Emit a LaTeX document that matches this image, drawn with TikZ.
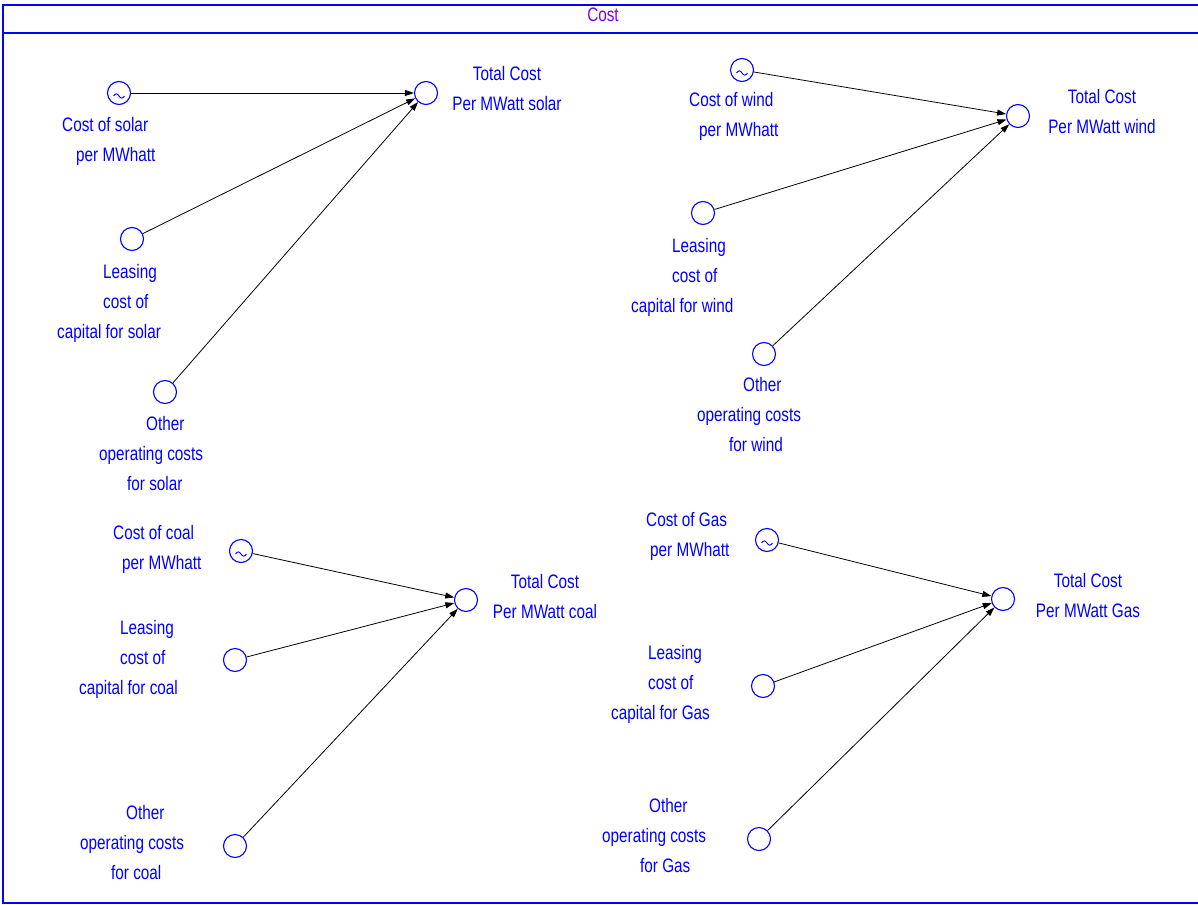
\documentclass[tikz,border=0pt]{standalone}
\usepackage{fontspec}
\setmainfont{Liberation Sans}[FakeStretch=0.785]
\usetikzlibrary{arrows.meta}
\definecolor{titleviolet}{RGB}{125,0,235}
\tikzset{
  stock/.style={circle, draw=blue, line width=1.1pt, minimum size=23pt, inner sep=0pt},
  wave/.style={stock, path picture={\draw[blue, line width=0.9pt]
      ([shift={(-5.5pt,-3pt)}]path picture bounding box.center)
      sin ++(2.75pt,2.2pt) cos ++(2.75pt,-2.2pt) sin ++(2.75pt,-2.2pt) cos ++(2.75pt,2.2pt);}},
  varlabel/.style={text=blue, inner sep=0pt, align=left, anchor=base west},
  totallabel/.style={text=blue, inner sep=0pt, align=center, anchor=base},
  flow/.style={draw=black, line width=0.8pt, -{Triangle[length=9pt,width=6pt]}}
}
\begin{document}
\begin{tikzpicture}[x=1pt, y=-1pt, font=\fontsize{19.5}{30}\selectfont]
        \useasboundingbox (0,0) rectangle (1198,904);
        % frame and title bar
        \draw[blue, line width=1.4pt] (3,5) rectangle (1204,903);
        \draw[blue, line width=1.4pt] (3,33) -- (1204,33);
        \node[text=titleviolet, inner sep=0pt, anchor=base] (title) at (603,22) {Cost};
        % nodes for solar
        \node[wave]  (costsolar)    at (119, 93) {};
        \node[stock] (totalsolar)   at (426, 93) {};
        \node[stock] (leasingsolar) at (132,239) {};
        \node[stock] (othersolar)   at (165,392) {};
        % nodes for wind
        \node[wave]  (costwind)     at ( 742, 70) {};
        \node[stock] (totalwind)    at (1018,116) {};
        \node[stock] (leasingwind)  at ( 703,213) {};
        \node[stock] (otherwind)    at ( 764,354) {};
        % nodes for coal
        \node[wave]  (costcoal)     at (241,551) {};
        \node[stock] (totalcoal)    at (466,600) {};
        \node[stock] (leasingcoal)  at (235,660) {};
        \node[stock] (othercoal)    at (235,846) {};
        % nodes for gas
        \node[wave]  (costgas)      at ( 767,540) {};
        \node[stock] (totalgas)     at (1003,599) {};
        \node[stock] (leasinggas)   at ( 763,686) {};
        \node[stock] (othergas)     at ( 759,839) {};
        % labels for solar (anchored at the last line)
        \node[varlabel]   (costsolarlabel)    at ( 62,161.5) {Cost of solar\\\hspace*{14pt}per MWhatt};
        \node[totallabel] (totalsolarlabel)   at (507,110.5) {Total Cost\\Per MWatt solar};
        \node[varlabel]   (leasingsolarlabel) at ( 57,338)   {\hspace*{46pt}Leasing\\\hspace*{46pt}cost of\\capital for solar};
        \node[varlabel]   (othersolarlabel)   at ( 99,490.5) {\hspace*{47pt}Other\\operating costs\\\hspace*{28pt}for solar};
        % labels for wind
        \node[varlabel]   (costwindlabel)     at ( 689,137)   {Cost of wind\\\hspace*{10pt}per MWhatt};
        \node[totallabel] (totalwindlabel)    at (1102,133.5) {Total Cost\\Per MWatt wind};
        \node[varlabel]   (leasingwindlabel)  at ( 631,312.5) {\hspace*{41pt}Leasing\\\hspace*{41pt}cost of\\capital for wind};
        \node[varlabel]   (otherwindlabel)    at ( 697,451.5) {\hspace*{46pt}Other\\operating costs\\\hspace*{32pt}for wind};
        % labels for coal
        \node[varlabel]   (costcoallabel)     at (113,569.5) {Cost of coal\\\hspace*{9pt}per MWhatt};
        \node[totallabel] (totalcoallabel)    at (545,618.5) {Total Cost\\Per MWatt coal};
        \node[varlabel]   (leasingcoallabel)  at ( 79,694.5) {\hspace*{41pt}Leasing\\\hspace*{41pt}cost of\\capital for coal};
        \node[varlabel]   (othercoallabel)    at ( 80,879.5) {\hspace*{46pt}Other\\operating costs\\\hspace*{31pt}for coal};
        % labels for gas
        \node[varlabel]   (costgaslabel)      at ( 646,556.5) {Cost of Gas\\\hspace*{4pt}per MWhatt};
        \node[totallabel] (totalgaslabel)     at (1088,617.5) {Total Cost\\Per MWatt Gas};
        \node[varlabel]   (leasinggaslabel)   at ( 611,719.5) {\hspace*{37pt}Leasing\\\hspace*{37pt}cost of\\capital for Gas};
        \node[varlabel]   (othergaslabel)     at ( 602,872.5) {\hspace*{47pt}Other\\operating costs\\\hspace*{38pt}for Gas};
        % drawing the connectors
        \draw[flow] (costsolar)    -- (totalsolar);
        \draw[flow] (leasingsolar) -- (totalsolar);
        \draw[flow] (othersolar)   -- (totalsolar);
        \draw[flow] (costwind)     -- (totalwind);
        \draw[flow] (leasingwind)  -- (totalwind);
        \draw[flow] (otherwind)    -- (totalwind);
        \draw[flow] (costcoal)     -- (totalcoal);
        \draw[flow] (leasingcoal)  -- (totalcoal);
        \draw[flow] (othercoal)    -- (totalcoal);
        \draw[flow] (costgas)      -- (totalgas);
        \draw[flow] (leasinggas)   -- (totalgas);
        \draw[flow] (othergas)     -- (totalgas);
      \end{tikzpicture}
\end{document}
